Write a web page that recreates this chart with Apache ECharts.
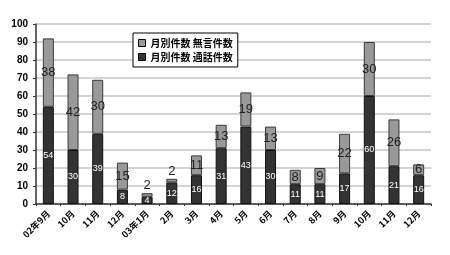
<!DOCTYPE html>
<html><head><meta charset="utf-8">
<script src="https://cdn.jsdelivr.net/npm/echarts@6/dist/echarts.min.js"></script>
<style>html,body{margin:0;padding:0;background:#fff}#c{width:450px;height:255px}</style>
</head><body><div id="c"></div>
<script>
const categories = ['02年9月','10月','11月','12月','03年1月','2月','3月','4月','5月','6月','7月','8月','9月','10月','11月','12月'];
const callCounts = [54,30,39,8,4,12,16,31,43,30,11,11,17,60,21,16];
const silentCounts = [38,42,30,15,2,2,11,13,19,13,8,9,22,30,26,6];
const yTicks = [0,10,20,30,40,50,60,70,80,90,100];
const seriesNames = ['月別件数 通話件数','月別件数 無言件数'];

const chart = echarts.init(document.getElementById('c'));
const silentData = silentCounts.map(v => v < 5 ? {value: v, label: {position: 'top', distance: 1}} : v);
chart.setOption({
  animation: false,
  grid: {left: 36, right: 19, top: 24, bottom: 51},
  legend: {
    left: 133, top: 33, orient: 'vertical', itemGap: 4,
    data: [seriesNames[1], seriesNames[0]],
    icon: 'rect',
    itemWidth: 7, itemHeight: 7, padding: [5, 5], itemStyle: {borderColor: '#000', borderWidth: 1},
    borderColor: '#000', borderWidth: 1, backgroundColor: '#fff',
    textStyle: {fontSize: 10, color: '#000', fontFamily: 'Noto Sans CJK JP', fontWeight: 'bold'}
  },
  xAxis: {
    type: 'category', data: categories,
    axisLine: {lineStyle: {color: '#333', width: 1.5}},
    axisTick: {show: true, length: 2, lineStyle: {color: '#333'}},
    axisLabel: {rotate: 45, fontSize: 9, color: '#000', margin: 8, fontWeight: 'bold', fontFamily: 'Noto Sans CJK JP', interval: 0}
  },
  yAxis: {
    type: 'value', min: 0, max: 100, interval: 10,
    axisLine: {show: true, lineStyle: {color: '#333', width: 1.5}},
    axisTick: {show: true, length: 3, lineStyle: {color: '#333'}},
    axisLabel: {fontSize: 10, color: '#000', fontWeight: 'bold', margin: 8},
    splitLine: {lineStyle: {color: '#d4d4d4', width: 2}}
  },
  series: [
    {
      name: seriesNames[0], type: 'bar', stack: 's', data: callCounts, barWidth: 11,
      itemStyle: {color: '#333333', borderColor: '#111', borderWidth: 1},
      label: {show: true, position: 'inside', color: '#fff', fontSize: 9}
    },
    {
      name: seriesNames[1], type: 'bar', stack: 's', data: silentData, barWidth: 11,
      itemStyle: {color: '#999999', borderColor: '#3a3a3a', borderWidth: 1},
      label: {show: true, position: 'inside', color: '#222', fontSize: 13}
    }
  ]
});
</script></body></html>
